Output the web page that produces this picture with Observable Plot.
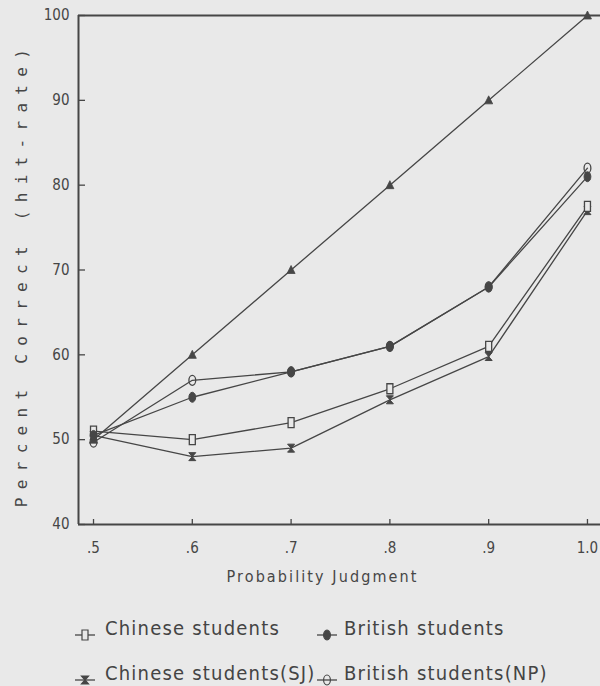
<!DOCTYPE html>
<html>
<head>
<meta charset="utf-8">
<script src="https://cdn.jsdelivr.net/npm/d3@7"></script>
<script src="https://cdn.jsdelivr.net/npm/@observablehq/plot@0.6"></script>
<style>
  html, body { margin: 0; padding: 0; background: #e9e9e9; }
  #chart { position: relative; width: 600px; height: 686px; overflow: hidden; background: #e9e9e9; }
  .leg-text { position: absolute; font-family: "DejaVu Sans Condensed", "Liberation Sans Narrow", sans-serif; font-stretch: condensed; font-size: 20px; color: #444; letter-spacing: 1.2px; white-space: nowrap; line-height: 20px; }
  .leg-mark { position: absolute; }
</style>
</head>
<body>
<div id="chart"></div>
<script>
// ---- data ----
const probabilities = [0.5, 0.6, 0.7, 0.8, 0.9, 1.0];
const xTickLabels = [".5", ".6", ".7", ".8", ".9", "1.0"];
const yTicks = [40, 50, 60, 70, 80, 90, 100];
const seriesNames = ["Chinese students", "British students", "Chinese students(SJ)", "British students(NP)"];
const chinese = [51, 50, 52, 56, 61, 77.5];
const british = [50.5, 55, 58, 61, 68, 81];
const chineseSJ = [50.5, 48, 49, 54.7, 59.8, 77];
const britishNP = [49.7, 57, 58, 61, 68, 82];
const perfect = [50, 60, 70, 80, 90, 100];
const xLabel = "Probability Judgment";
const yLabel = "Percent Correct (hit-rate)";

// ---- style ----
const ink = "#464646";
const bg = "#e9e9e9";
const W = 600, H = 600;
const mL = 78, mR = 0, mT = 15, mB = 76;
const plotW = W - mL - mR, plotH = H - mT - mB;
const xDomain = [0.4848, 1.0132];

function ellipsePath(ctx, rx, ry) {
  const k = 0.5523;
  ctx.moveTo(rx, 0);
  ctx.bezierCurveTo(rx, ry * k, rx * k, ry, 0, ry);
  ctx.bezierCurveTo(-rx * k, ry, -rx, ry * k, -rx, 0);
  ctx.bezierCurveTo(-rx, -ry * k, -rx * k, -ry, 0, -ry);
  ctx.bezierCurveTo(rx * k, -ry, rx, -ry * k, rx, 0);
  ctx.closePath();
}
const symRect = {draw(ctx) { ctx.rect(-3, -5, 6, 10); }};
const symEllipse = {draw(ctx) { ellipsePath(ctx, 3.4, 5); }};
const symTri = {draw(ctx) { ctx.moveTo(0, -4.5); ctx.lineTo(4, 3.5); ctx.lineTo(-4, 3.5); ctx.closePath(); }};
const symHour = {draw(ctx) { ctx.moveTo(-3.5, -4); ctx.lineTo(3.5, -4); ctx.lineTo(-3.5, 4); ctx.lineTo(3.5, 4); ctx.closePath(); }};

const toRows = (vals) => probabilities.map((p, i) => ({p, v: vals[i]}));
const rowsChinese = toRows(chinese);
const rowsBritish = toRows(british);
const rowsSJ = toRows(chineseSJ);
const rowsNP = toRows(britishNP);
const rowsPerfect = toRows(perfect);

const lineOpts = {x: "p", y: "v", stroke: ink, strokeWidth: 1.3};

const svg = Plot.plot({
  width: W, height: H,
  marginLeft: mL, marginRight: mR, marginTop: mT, marginBottom: mB,
  style: {background: bg, color: ink, fontFamily: "'DejaVu Sans Condensed', 'Liberation Sans Narrow', sans-serif", fontSize: "15px"},
  x: {domain: xDomain, ticks: probabilities, tickSize: 0, tickPadding: 18, label: null,
      tickFormat: d => xTickLabels[probabilities.indexOf(d)]},
  y: {domain: [40, 100], ticks: yTicks, tickSize: 0, tickPadding: 9, label: null},
  marks: [
    Plot.ruleY([100], {stroke: ink, strokeWidth: 2}),
    Plot.ruleY([40], {stroke: ink, strokeWidth: 2}),
    Plot.ruleX([xDomain[0]], {stroke: ink, strokeWidth: 2}),
    Plot.tickY(yTicks, {y: d => d, stroke: ink, strokeWidth: 1.3, insetRight: plotW - 7}),
    Plot.tickX(probabilities, {x: d => d, stroke: ink, strokeWidth: 1.3, insetTop: plotH - 5}),
    Plot.line(rowsPerfect, lineOpts),
    Plot.line(rowsChinese, lineOpts),
    Plot.line(rowsBritish, lineOpts),
    Plot.line(rowsSJ, lineOpts),
    Plot.line(rowsNP, lineOpts),
    Plot.dot(rowsPerfect, {x: "p", y: "v", symbol: symTri, fill: ink, stroke: ink, strokeWidth: 0.8}),
    Plot.dot(rowsSJ, {x: "p", y: "v", symbol: symHour, fill: ink, stroke: ink, strokeWidth: 1}),
    Plot.dot(rowsChinese, {x: "p", y: "v", symbol: symRect, fill: bg, stroke: ink, strokeWidth: 1.3}),
    Plot.dot(rowsBritish, {x: "p", y: "v", symbol: symEllipse, fill: ink, stroke: ink, strokeWidth: 1}),
    Plot.dot(rowsNP, {x: "p", y: "v", symbol: symEllipse, fill: "none", stroke: ink, strokeWidth: 1.3}),
    Plot.text([xLabel], {frameAnchor: "bottom", textAnchor: "middle", dy: 57, dx: -17, fill: ink, fontSize: 16}),
    Plot.text([yLabel], {frameAnchor: "left", textAnchor: "middle", rotate: -90, dx: -57, dy: 4, fill: ink, fontSize: 16,
      fontFamily: "DejaVu Sans Mono"})
  ]
});
d3.select(svg).selectAll("text").filter(function() { return this.textContent === xLabel; }).attr("letter-spacing", "2.1px");
d3.select(svg).selectAll("text").filter(function() { return this.textContent === yLabel; }).attr("letter-spacing", "8.3px");

const chart = document.getElementById("chart");
chart.appendChild(svg);

// ---- legend (HTML below the SVG) ----
const legendSymbols = [symRect, symEllipse, symHour, symEllipse];
const legendFills = [bg, ink, ink, "none"];
const legendPos = [
  {tx: 105, mx: 74, y: 618},
  {tx: 344, mx: 316, y: 618},
  {tx: 105, mx: 74, y: 663},
  {tx: 344, mx: 316, y: 663}
];
seriesNames.forEach((name, i) => {
  const pos = legendPos[i];
  const t = document.createElement("div");
  t.className = "leg-text";
  t.style.left = pos.tx + "px";
  t.style.top = pos.y + "px";
  t.textContent = name;
  chart.appendChild(t);
  const m = d3.create("svg").attr("class", "leg-mark")
    .attr("width", 24).attr("height", 16)
    .style("left", pos.mx + "px").style("top", (pos.y + 9) + "px");
  m.append("line").attr("x1", 1).attr("x2", 21).attr("y1", 8).attr("y2", 8)
    .attr("stroke", ink).attr("stroke-width", 1.3);
  const p = d3.path();
  legendSymbols[i].draw(p);
  m.append("path").attr("d", p.toString()).attr("transform", "translate(11,8)")
    .attr("fill", legendFills[i]).attr("stroke", ink).attr("stroke-width", 1.2);
  chart.appendChild(m.node());
});
</script>
</body>
</html>
